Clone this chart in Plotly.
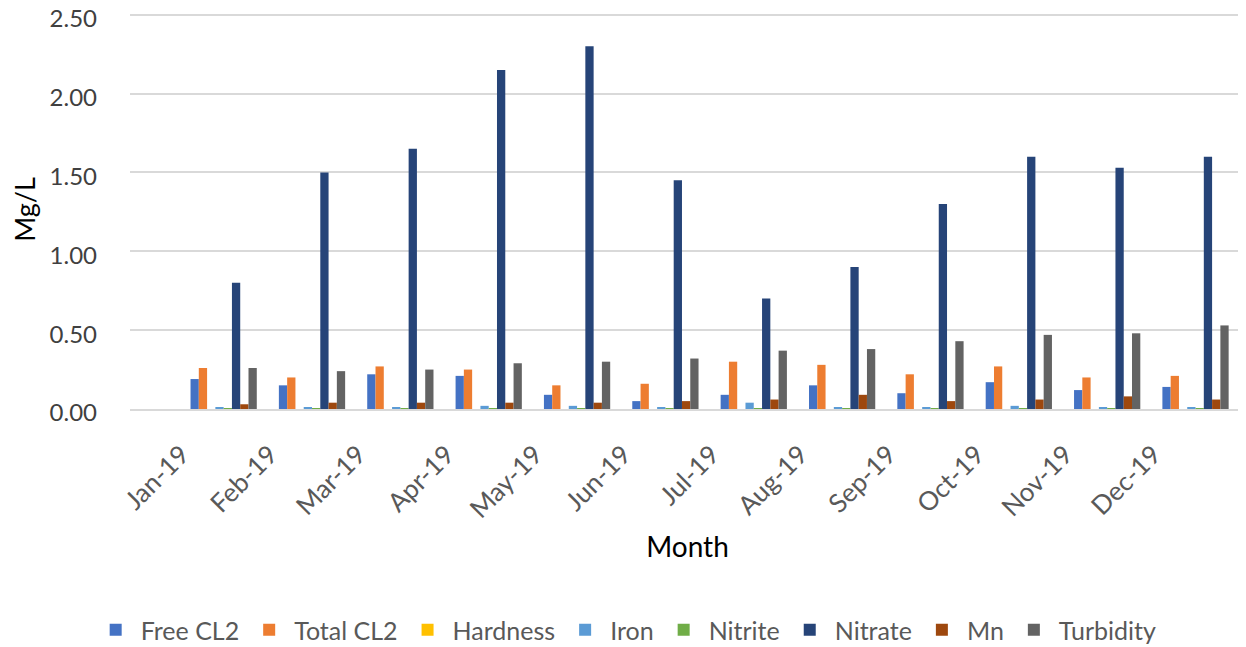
import plotly.graph_objects as go

months = ["Jan-19", "Feb-19", "Mar-19", "Apr-19", "May-19", "Jun-19",
          "Jul-19", "Aug-19", "Sep-19", "Oct-19", "Nov-19", "Dec-19"]

free_cl2 = [0.19, 0.15, 0.22, 0.21, 0.09, 0.05, 0.09, 0.15, 0.10, 0.17, 0.12, 0.14]
total_cl2 = [0.26, 0.20, 0.27, 0.25, 0.15, 0.16, 0.30, 0.28, 0.22, 0.27, 0.20, 0.21]
hardness = [0, 0, 0, 0, 0, 0, 0, 0, 0, 0, 0, 0]
iron = [0.01, 0.01, 0.01, 0.02, 0.02, 0.01, 0.04, 0.01, 0.01, 0.02, 0.01, 0.01]
nitrite = [0.005, 0.005, 0.005, 0.005, 0.005, 0.005, 0.005, 0.005, 0.005, 0.005, 0.005, 0.005]
nitrate = [0.80, 1.50, 1.65, 2.15, 2.30, 1.45, 0.70, 0.90, 1.30, 1.60, 1.53, 1.60]
mn = [0.03, 0.04, 0.04, 0.04, 0.04, 0.05, 0.06, 0.09, 0.05, 0.06, 0.08, 0.06]
turbidity = [0.26, 0.24, 0.25, 0.29, 0.30, 0.32, 0.37, 0.38, 0.43, 0.47, 0.48, 0.53]

series = [
    ("Free CL2", free_cl2, "#4472C4"),
    ("Total CL2", total_cl2, "#ED7D31"),
    ("Hardness", hardness, "#FFC000"),
    ("Iron", iron, "#5B9BD5"),
    ("Nitrite", nitrite, "#70AD47"),
    ("Nitrate", nitrate, "#264478"),
    ("Mn", mn, "#9E480E"),
    ("Turbidity", turbidity, "#636363"),
]

fig = go.Figure()
for name, vals, color in series:
    fig.add_trace(go.Bar(name=name, x=months, y=vals, marker_color=color,
                         marker_line_width=0))

font_family = "Lato, 'Open Sans', sans-serif"
fig.update_layout(
    width=1246, height=647,
    margin=dict(l=122, r=9, t=2, b=246, autoexpand=False),
    paper_bgcolor="white", plot_bgcolor="white",
    barmode="group", bargap=0.25, bargroupgap=0.0,
    font=dict(family=font_family, color="#595959", size=20),
    xaxis=dict(
        title=dict(text="Month", font=dict(size=28, color="#000000"), standoff=14),
        tickangle=-45, tickfont=dict(size=26, color="#595959"),
        range=[-1.06, 11.56], automargin=False,
        showgrid=False, showline=True, linecolor="#D9D9D9", linewidth=2,
        ticks="", ticklabelstandoff=18, ticklabelshift=-42,
        ticklabeloverflow="allow",
    ),
    yaxis=dict(
        title=dict(text="Mg/L", font=dict(size=27, color="#000000"), standoff=30),
        range=[0, 2.53], tickvals=[0, 0.5, 1.0, 1.5, 2.0, 2.5],
        ticktext=["0.00", "0.50", "1.00", "1.50", "2.00", "2.50"],
        automargin=False, ticklabeloverflow="allow",
        tickfont=dict(size=24, color="#404040"),
        showgrid=True, gridcolor="#D9D9D9", gridwidth=2,
        zeroline=False, ticks="", ticklabelstandoff=32, ticklabelshift=4,
    ),
    legend=dict(
        orientation="h", x=0.445, xanchor="center", y=-0.554, yanchor="middle",
        font=dict(size=25, color="#595959"), traceorder="normal",
        itemwidth=40,
    ),
)

fig.write_html("out.html")
